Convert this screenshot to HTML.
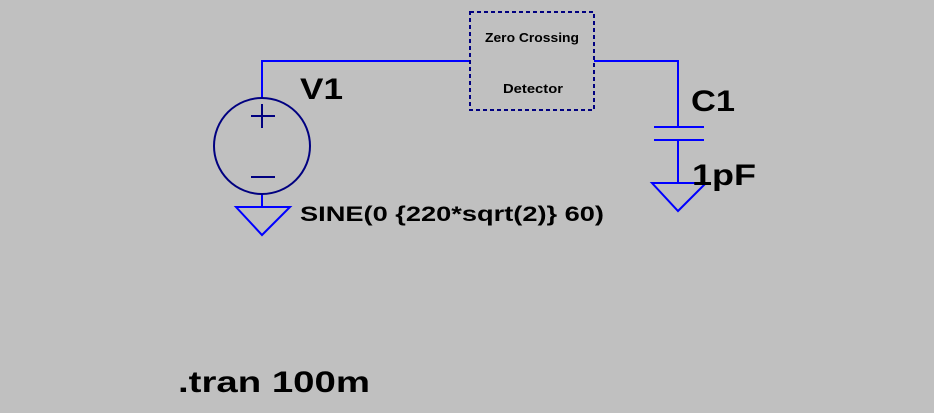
<!DOCTYPE html>
<html><head><style>
html,body{margin:0;padding:0;background:#c0c0c0;}
svg{display:block;}
text{font-family:"Liberation Sans",sans-serif;font-weight:bold;fill:#000;}
</style></head><body>
<svg width="934" height="413" viewBox="0 0 934 413">
<rect width="934" height="413" fill="#c0c0c0"/>
<g stroke="#0000ff" stroke-width="2" fill="none">
<polyline points="262,98 262,61 470,61"/>
<polyline points="594,61 678,61 678,127"/>
<line x1="678" y1="140" x2="678" y2="183"/>
<line x1="654" y1="127" x2="704" y2="127"/>
<line x1="654" y1="140" x2="704" y2="140"/>
<line x1="262" y1="194" x2="262" y2="207"/>
<polygon points="236,207 290,207 262,235"/>
<polygon points="652,183 706,183 678,211"/>
</g>
<g stroke="#000080" stroke-width="2" fill="none">
<circle cx="262" cy="146" r="48"/>
<line x1="251" y1="116" x2="275" y2="116"/>
<line x1="262" y1="104" x2="262" y2="128"/>
<line x1="251" y1="177" x2="275" y2="177"/>
<rect x="470" y="12" width="124" height="98" stroke-dasharray="4,3"/>
</g>
<text x="485" y="42" font-size="13" textLength="94" lengthAdjust="spacingAndGlyphs">Zero Crossing</text>
<text x="503" y="93" font-size="13" textLength="60" lengthAdjust="spacingAndGlyphs">Detector</text>
<text x="300" y="99" font-size="30" textLength="43" lengthAdjust="spacingAndGlyphs">V1</text>
<text x="691" y="111" font-size="30" textLength="44" lengthAdjust="spacingAndGlyphs">C1</text>
<text x="692" y="185" font-size="30" textLength="64" lengthAdjust="spacingAndGlyphs">1pF</text>
<text x="300" y="221" font-size="21" textLength="304" lengthAdjust="spacingAndGlyphs">SINE(0 {220*sqrt(2)} 60)</text>
<text x="178" y="392" font-size="30" textLength="192" lengthAdjust="spacingAndGlyphs">.tran 100m</text>
</svg>
</body></html>
